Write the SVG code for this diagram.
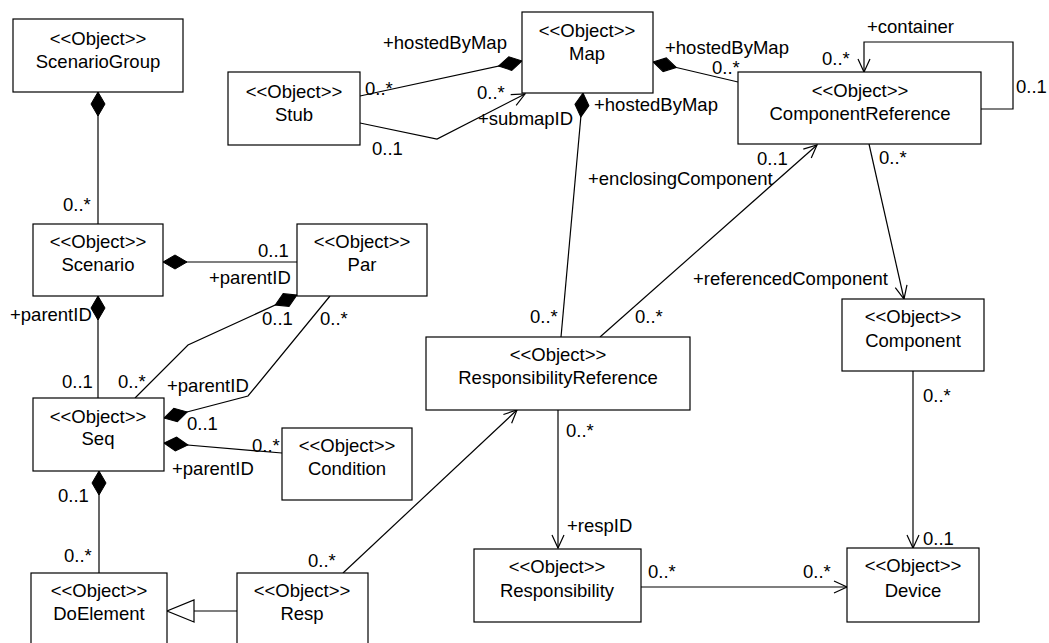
<svg xmlns="http://www.w3.org/2000/svg" width="1049" height="643" viewBox="0 0 1049 643">
<defs>
<style>
.box{fill:#fff;stroke:#000;stroke-width:1.2}
.t{font-family:"Liberation Sans",Arial,sans-serif;font-size:18.5px;fill:#000}
.c{text-anchor:middle}
.ln{fill:none;stroke:#000;stroke-width:1.2}
.dia{marker-end:url(#diamond)}
.arr{marker-end:url(#arrow)}
</style>
<marker id="diamond" viewBox="-25 -8 26 16" refX="0" refY="0" markerWidth="26" markerHeight="16" markerUnits="userSpaceOnUse" orient="auto">
<path d="M0,0 L-12,-7 L-24,0 L-12,7 Z" fill="#000" stroke="#000" stroke-width="1"/>
</marker>
<marker id="arrow" viewBox="-14 -8 16 16" refX="0" refY="0" markerWidth="16" markerHeight="16" markerUnits="userSpaceOnUse" orient="auto">
<path d="M-13,-6 L0,0 L-13,6" fill="none" stroke="#000" stroke-width="1.2"/>
</marker>
<marker id="tri" viewBox="-30 -13 32 26" refX="0" refY="0" markerWidth="32" markerHeight="26" markerUnits="userSpaceOnUse" orient="auto">
<path d="M-27,-11 L0,0 L-27,11 Z" fill="#fff" stroke="#000" stroke-width="1.2"/>
</marker>
</defs>
<rect width="1049" height="643" fill="#fff"/>

<g id="connectors">
<path class="ln dia" d="M98,224 L98,92"/>
<path class="ln dia" d="M297,262 L163,262"/>
<path class="ln dia" d="M98,398 L98,296"/>
<path class="ln dia" d="M135,398 L188,345 L297,295"/>
<path class="ln dia" d="M330,296 L248,396 L164,418"/>
<path class="ln dia" d="M282,453 L164,443"/>
<path class="ln dia" d="M99,573 L99,471"/>
<path class="ln" d="M237,611 L167,611" marker-end="url(#tri)"/>
<path class="ln arr" d="M343,573 L517,410"/>
<path class="ln dia" d="M360,96 L522,61"/>
<path class="ln arr" d="M360,123 L437,139 L525,94"/>
<path class="ln dia" d="M738,82 L653,62"/>
<path class="ln dia" d="M561,337 L583,93"/>
<path class="ln arr" d="M600,337 L817,145"/>
<path class="ln arr" d="M869,144 L904,299"/>
<path class="ln arr" d="M981,109 L1013,109 L1013,42 L864,42 L864,72"/>
<path class="ln arr" d="M558,410 L558,548"/>
<path class="ln arr" d="M913,371 L913,548"/>
<path class="ln arr" d="M641,587 L847,587"/>

<text class="t" x="63" y="211">0..*</text>
<text class="t" x="258" y="257">0..1</text>
<text class="t" x="209" y="284">+parentID</text>
<text class="t" x="10" y="321">+parentID</text>
<text class="t" x="62" y="388">0..1</text>
<text class="t" x="118" y="388">0..*</text>
<text class="t" x="262" y="325">0..1</text>
<text class="t" x="320" y="325">0..*</text>
<text class="t" x="167" y="392">+parentID</text>
<text class="t" x="187" y="430">0..1</text>
<text class="t" x="252" y="452">0..*</text>
<text class="t" x="172" y="475">+parentID</text>
<text class="t" x="58" y="502">0..1</text>
<text class="t" x="64" y="562">0..*</text>
<text class="t" x="308" y="567">0..*</text>
<text class="t" x="383" y="49">+hostedByMap</text>
<text class="t" x="365" y="95">0..*</text>
<text class="t" x="477" y="99">0..*</text>
<text class="t" x="478" y="125">+submapID</text>
<text class="t" x="372" y="155">0..1</text>
<text class="t" x="665" y="54">+hostedByMap</text>
<text class="t" x="712" y="74">0..*</text>
<text class="t" x="594" y="111">+hostedByMap</text>
<text class="t" x="530" y="323">0..*</text>
<text class="t" x="588" y="185">+enclosingComponent</text>
<text class="t" x="757" y="165">0..1</text>
<text class="t" x="635" y="323">0..*</text>
<text class="t" x="879" y="164">0..*</text>
<text class="t" x="693" y="285">+referencedComponent</text>
<text class="t" x="867" y="33">+container</text>
<text class="t" x="822" y="65">0..*</text>
<text class="t" x="1016" y="93">0..1</text>
<text class="t" x="566" y="437">0..*</text>
<text class="t" x="567" y="532">+respID</text>
<text class="t" x="923" y="402">0..*</text>
<text class="t" x="923" y="545">0..1</text>
<text class="t" x="648" y="578">0..*</text>
<text class="t" x="803" y="578">0..*</text>
</g>

<g id="ScenarioGroup"><rect class="box" x="13" y="19" width="170" height="73"/><text class="t c" x="98" y="45">&lt;&lt;Object&gt;&gt;</text><text class="t c" x="98" y="68">ScenarioGroup</text></g>
<g id="Stub"><rect class="box" x="228" y="72" width="132" height="73"/><text class="t c" x="294" y="98">&lt;&lt;Object&gt;&gt;</text><text class="t c" x="294" y="121">Stub</text></g>
<g id="Map"><rect class="box" x="522" y="12" width="131" height="81"/><text class="t c" x="587" y="37">&lt;&lt;Object&gt;&gt;</text><text class="t c" x="587" y="60">Map</text></g>
<g id="ComponentReference"><rect class="box" x="738" y="72" width="243" height="72"/><text class="t c" x="860" y="97">&lt;&lt;Object&gt;&gt;</text><text class="t c" x="860" y="120">ComponentReference</text></g>
<g id="Scenario"><rect class="box" x="33" y="224" width="130" height="72"/><text class="t c" x="98" y="248">&lt;&lt;Object&gt;&gt;</text><text class="t c" x="98" y="271">Scenario</text></g>
<g id="Par"><rect class="box" x="297" y="224" width="130" height="72"/><text class="t c" x="362" y="248">&lt;&lt;Object&gt;&gt;</text><text class="t c" x="362" y="271">Par</text></g>
<g id="Seq"><rect class="box" x="33" y="398" width="131" height="73"/><text class="t c" x="98" y="423">&lt;&lt;Object&gt;&gt;</text><text class="t c" x="98" y="445">Seq</text></g>
<g id="Condition"><rect class="box" x="282" y="428" width="130" height="72"/><text class="t c" x="347" y="452">&lt;&lt;Object&gt;&gt;</text><text class="t c" x="347" y="475">Condition</text></g>
<g id="DoElement"><rect class="box" x="31" y="573" width="136" height="90"/><text class="t c" x="99" y="597">&lt;&lt;Object&gt;&gt;</text><text class="t c" x="99" y="620">DoElement</text></g>
<g id="Resp"><rect class="box" x="237" y="573" width="131" height="90"/><text class="t c" x="302" y="597">&lt;&lt;Object&gt;&gt;</text><text class="t c" x="302" y="620">Resp</text></g>
<g id="ResponsibilityReference"><rect class="box" x="426" y="337" width="264" height="73"/><text class="t c" x="558" y="361">&lt;&lt;Object&gt;&gt;</text><text class="t c" x="558" y="384">ResponsibilityReference</text></g>
<g id="Component"><rect class="box" x="842" y="299" width="142" height="72"/><text class="t c" x="913" y="323">&lt;&lt;Object&gt;&gt;</text><text class="t c" x="913" y="347">Component</text></g>
<g id="Responsibility"><rect class="box" x="474" y="549" width="167" height="73"/><text class="t c" x="557" y="573">&lt;&lt;Object&gt;&gt;</text><text class="t c" x="557" y="597">Responsibility</text></g>
<g id="Device"><rect class="box" x="847" y="548" width="132" height="74"/><text class="t c" x="913" y="572">&lt;&lt;Object&gt;&gt;</text><text class="t c" x="913" y="597">Device</text></g>
</svg>
